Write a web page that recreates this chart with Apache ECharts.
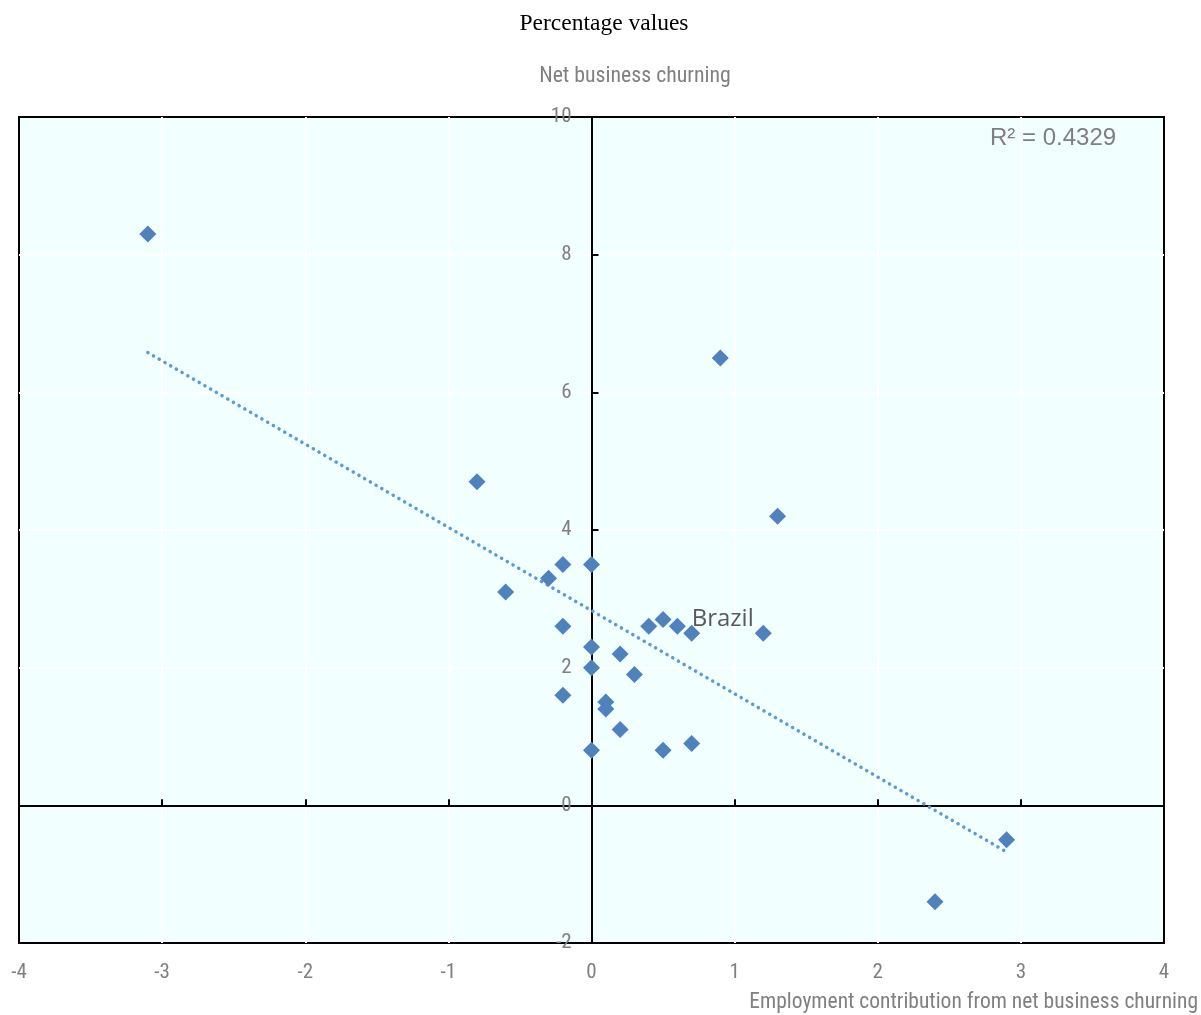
<!DOCTYPE html>
<html>
<head>
<meta charset="utf-8">
<style>
  html, body { margin: 0; padding: 0; background: #ffffff; }
  #chart { width: 1201px; height: 1015px; }
</style>
<script src="https://cdn.jsdelivr.net/npm/echarts@6/dist/echarts.min.js"></script>
</head>
<body>
<div id="chart"></div>
<script>
// Employment contribution (x) vs net business churning (y), percentages
const countries = [
  '', '', '', '', '', '', '', '', '', '',
  '', '', '', '', '', '', '', '', '', 'Brazil',
  '', '', '', '', '', '', ''
];
const employmentContribution = [
  -3.1, -0.8, -0.6, -0.3, -0.2, 0.0, -0.2, -0.2, 0.0, 0.0,
   0.0,  0.1,  0.1,  0.2,  0.2, 0.3,  0.4,  0.5, 0.6, 0.7,
   0.5,  0.7,  0.9,  1.2,  1.3, 2.9,  2.4
];
const netChurning = [
   8.3, 4.7, 3.1, 3.3, 3.5, 3.5, 2.6, 1.6, 2.3, 2.0,
   0.8, 1.5, 1.4, 2.2, 1.1, 1.9, 2.6, 2.7, 2.6, 2.5,
   0.8, 0.9, 6.5, 2.5, 4.2, -0.5, -1.4
];
const xTicks = { min: -4, max: 4, interval: 1 };
const yTicks = { min: -2, max: 10, interval: 2 };
const rSquaredText = 'R² = 0.4329';

// Least-squares fit used for the dotted trend line
function linearFit(xs, ys) {
  const n = xs.length;
  let sx = 0, sy = 0, sxx = 0, sxy = 0;
  for (let i = 0; i < n; i++) {
    sx += xs[i]; sy += ys[i];
    sxx += xs[i] * xs[i]; sxy += xs[i] * ys[i];
  }
  const slope = (n * sxy - sx * sy) / (n * sxx - sx * sx);
  const intercept = (sy - slope * sx) / n;
  return { slope, intercept };
}
const fit = linearFit(employmentContribution, netChurning);
const xLo = Math.min(...employmentContribution);
const xHi = Math.max(...employmentContribution);
const trend = [
  [xLo, fit.intercept + fit.slope * xLo],
  [xHi, fit.intercept + fit.slope * xHi]
];

const labelFont = '"Open Sans", "Noto Sans", sans-serif';
const narrow = '"Liberation Sans Narrow", "Arial Narrow", "Roboto Condensed", sans-serif';
const gray = '#808080';

const points = employmentContribution.map((x, i) => ({
  value: [x, netChurning[i]],
  name: countries[i],
  label: countries[i] ? {
    show: true,
    formatter: '{b}',
    position: 'inside',
    offset: [31, -14],
    color: '#595959',
    fontFamily: labelFont,
    fontSize: 24
  } : { show: false }
}));

const GRID = { left: 19, right: 37, top: 117, bottom: 72 };
const plotWidth = 1201 - GRID.left - GRID.right;
// horizontal distance from the plot's left edge to x = 0
const zeroShift = plotWidth * (0 - xTicks.min) / (xTicks.max - xTicks.min);

const whiteGrid = {
  show: true, showMinLine: false, showMaxLine: false,
  lineStyle: { color: '#ffffff', width: 2 }
};

const chart = echarts.init(document.getElementById('chart'), null, { renderer: 'canvas' });
chart.setOption({
  backgroundColor: '#ffffff',
  animation: false,
  grid: {
    left: GRID.left, right: GRID.right, top: GRID.top, bottom: GRID.bottom,
    outerBoundsMode: 'none',
    containLabel: false,
    show: true,
    backgroundColor: '#F2FFFF',
    borderColor: '#000000',
    borderWidth: 2
  },
  xAxis: [
    {
      // horizontal zero line with ticks
      type: 'value', min: xTicks.min, max: xTicks.max, interval: xTicks.interval,
      position: 'top',
      axisLine: { onZero: true, lineStyle: { color: '#000000', width: 2 } },
      axisTick: { show: true, inside: false, length: 6, lineStyle: { color: '#000000', width: 2 } },
      axisLabel: { show: false },
      splitLine: whiteGrid
    },
    {
      // tick labels along the bottom edge
      type: 'value', min: xTicks.min, max: xTicks.max, interval: xTicks.interval,
      position: 'bottom',
      axisLine: { show: false, onZero: false },
      axisTick: { show: false },
      splitLine: { show: false },
      axisLabel: { show: true, margin: 19, color: gray, fontFamily: narrow, fontSize: 21 }
    }
  ],
  yAxis: [
    {
      // vertical zero line with ticks
      type: 'value', min: yTicks.min, max: yTicks.max, interval: yTicks.interval,
      position: 'right',
      axisLine: { onZero: true, lineStyle: { color: '#000000', width: 2 } },
      axisTick: { show: true, inside: false, length: 7, lineStyle: { color: '#000000', width: 2 } },
      axisLabel: { show: false },
      splitLine: whiteGrid
    },
    {
      // tick labels just left of x = 0
      type: 'value', min: yTicks.min, max: yTicks.max, interval: yTicks.interval,
      position: 'left',
      offset: -zeroShift,
      axisLine: { show: false, onZero: false },
      axisTick: { show: false },
      splitLine: { show: false },
      axisLabel: { show: true, margin: 20, color: gray, fontFamily: narrow, fontSize: 21 }
    }
  ],
  graphic: [
    {
      type: 'text', x: 604, y: 24,
      style: { text: 'Percentage values', align: 'center', verticalAlign: 'middle',
               fill: '#000000', font: '23.5px "Liberation Serif", "Times New Roman", serif' }
    },
    {
      type: 'text', x: 635, y: 77,
      style: { text: 'Net business churning', align: 'center', verticalAlign: 'middle',
               fill: gray, font: '21.8px ' + narrow }
    },
    {
      type: 'text', x: 1198, y: 1003,
      style: { text: 'Employment contribution from net business churning', align: 'right', verticalAlign: 'middle',
               fill: gray, font: '21.5px ' + narrow }
    },
    {
      type: 'text', x: 990, y: 138,
      style: { text: rSquaredText, align: 'left', verticalAlign: 'middle',
               fill: '#7f7f7f', font: '24px "Liberation Sans", "Noto Sans", sans-serif' }
    }
  ],
  series: [
    {
      type: 'line',
      xAxisIndex: 0,
      yAxisIndex: 0,
      data: trend,
      symbol: 'none',
      silent: true,
      z: 2,
      lineStyle: { color: '#5B9BD5', width: 3.5, type: [0.1, 6.5], cap: 'round' }
    },
    {
      type: 'scatter',
      xAxisIndex: 0,
      yAxisIndex: 0,
      data: points,
      symbol: 'diamond',
      symbolSize: 17,
      z: 3,
      itemStyle: { color: '#4F81BD', opacity: 1 }
    }
  ]
});
</script>
</body>
</html>
